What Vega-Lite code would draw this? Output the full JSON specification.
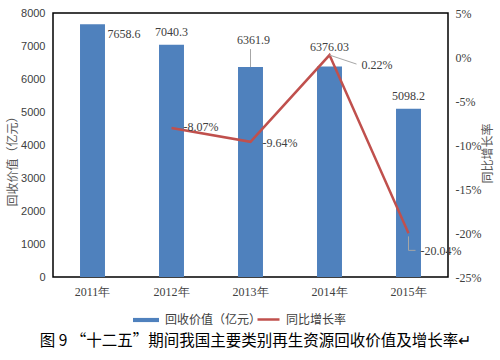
{
  "$schema": "https://vega.github.io/schema/vega-lite/v6.json",
  "width": 395,
  "height": 264,
  "autosize": {"type": "none"},
  "padding": {"left": 53, "top": 13, "right": 52, "bottom": 83},
  "background": "white",
  "config": {
    "view": {"stroke": "#000", "strokeWidth": 1.5},
    "font": "Liberation Serif",
    "axis": {"grid": false, "ticks": false, "domain": false, "labelColor": "#404040", "titleColor": "#595959", "titleFontWeight": "normal"},
    "legend": {"labelFont": "Noto Sans CJK SC", "labelFontSize": 12, "labelColor": "#404040", "title": null}
  },
  "title": {
    "text": "图 9  “十二五”期间我国主要类别再生资源回收价值及增长率↵",
    "orient": "bottom",
    "anchor": "middle",
    "font": "Noto Sans CJK SC",
    "fontSize": 15.5,
    "fontWeight": "normal",
    "color": "#000",
    "offset": 8,
    "dx": 5
  },
  "data": {
    "values": [
      {"year": "2011年", "value": 7658.6, "growth": null},
      {"year": "2012年", "value": 7040.3, "growth": -0.0807},
      {"year": "2013年", "value": 6361.9, "growth": -0.0964},
      {"year": "2014年", "value": 6376.03, "growth": 0.0022},
      {"year": "2015年", "value": 5098.2, "growth": -0.2004}
    ]
  },
  "encoding": {
    "x": {
      "field": "year", "type": "ordinal",
      "scale": {"paddingInner": 0.684, "paddingOuter": 0.342},
      "axis": {"title": null, "labelAngle": 0, "labelPadding": 9, "labelFontSize": 12, "labelColor": "#404040"}
    }
  },
  "layer": [
    {
      "encoding": {
        "y": {
          "field": "value", "type": "quantitative",
          "scale": {"domain": [0, 8000], "nice": false},
          "axis": {"values": [0, 1000, 2000, 3000, 4000, 5000, 6000, 7000, 8000], "format": "d", "labelFont": "Liberation Sans", "labelFontSize": 11, "labelPadding": 8, "title": "回收价值（亿元）", "titleFont": "Noto Sans CJK SC", "titleFontSize": 12, "titleAngle": 270, "titleX": -41, "titleY": 145, "titleAlign": "center", "titleBaseline": "middle"}
        }
      },
      "layer": [
        {
          "mark": {"type": "bar"},
          "encoding": {
            "fill": {"datum": "回收价值（亿元）", "scale": {"range": ["#4F81BD"]}, "legend": {"orient": "none", "legendX": 80, "legendY": 294, "symbolType": "M-1,-0.16H1V0.16H-1Z", "symbolSize": 676, "symbolStrokeWidth": 0, "labelOffset": 6}}
          }
        },
        {
          "transform": [{"filter": "datum.year == '2011年'"}],
          "mark": {"type": "text", "align": "left", "baseline": "middle", "dx": 15, "dy": 10, "fontSize": 12, "color": "#404040"},
          "encoding": {"text": {"field": "value", "type": "quantitative", "format": ".1f"}}
        },
        {
          "transform": [{"filter": "datum.year == '2012年' || datum.year == '2015年'"}],
          "mark": {"type": "text", "align": "center", "baseline": "bottom", "dy": -6, "fontSize": 12, "color": "#404040"},
          "encoding": {"text": {"field": "value", "type": "quantitative", "format": ".1f"}}
        },
        {
          "transform": [{"filter": "datum.year == '2013年'"}],
          "mark": {"type": "text", "align": "center", "baseline": "bottom", "dx": 3, "dy": -20, "fontSize": 12, "color": "#404040"},
          "encoding": {"text": {"field": "value", "type": "quantitative", "format": ".1f"}}
        },
        {
          "transform": [{"filter": "datum.year == '2013年'"}],
          "mark": {"type": "rule", "color": "#A6A6A6", "strokeWidth": 1, "y2Offset": -18},
          "encoding": {"y2": {"field": "value"}}
        },
        {
          "transform": [{"filter": "datum.year == '2014年'"}],
          "mark": {"type": "text", "align": "center", "baseline": "bottom", "dy": -13, "fontSize": 12, "color": "#404040"},
          "encoding": {"text": {"field": "value", "type": "quantitative", "format": ".2f"}}
        }
      ]
    },
    {
      "encoding": {
        "y": {
          "field": "growth", "type": "quantitative",
          "scale": {"domain": [-0.25, 0.05], "nice": false},
          "axis": {"orient": "right", "values": [-0.25, -0.2, -0.15, -0.1, -0.05, 0, 0.05], "format": ".0%", "labelExpr": "replace(datum.label, '−', '-')", "labelFontSize": 12, "labelPadding": 7, "title": "同比增长率", "titleFont": "Noto Sans CJK SC", "titleFontSize": 12, "titleAngle": 270, "titleX": 39, "titleY": 140, "titleAlign": "center", "titleBaseline": "middle"}
        }
      },
      "layer": [
        {
          "mark": {"type": "line", "strokeWidth": 2.5},
          "encoding": {
            "stroke": {"datum": "同比增长率", "scale": {"range": ["#C0504D"]}, "legend": {"orient": "none", "legendX": 203, "legendY": 294, "symbolType": "stroke", "symbolSize": 484, "symbolStrokeWidth": 2.5, "labelOffset": 5}}
          }
        },
        {
          "transform": [{"filter": "datum.year == '2012年'"}],
          "mark": {"type": "text", "align": "left", "baseline": "middle", "dx": 12, "dy": -1, "fontSize": 12, "color": "#404040", "text": {"expr": "replace(format(datum.growth, '.2%'), '−', '-')"}},
          "encoding": {}
        },
        {
          "transform": [{"filter": "datum.year == '2013年'"}],
          "mark": {"type": "text", "align": "left", "baseline": "middle", "dx": 12, "dy": 1, "fontSize": 12, "color": "#404040", "text": {"expr": "replace(format(datum.growth, '.2%'), '−', '-')"}},
          "encoding": {}
        },
        {
          "transform": [{"filter": "datum.year == '2014年'"}],
          "mark": {"type": "rule", "color": "#A6A6A6", "strokeWidth": 1, "x2Offset": 27, "y2Offset": 9},
          "encoding": {"x2": {"field": "year"}, "y2": {"field": "growth"}}
        },
        {
          "transform": [{"filter": "datum.year == '2014年'"}],
          "mark": {"type": "text", "align": "left", "baseline": "middle", "dx": 32, "dy": 10, "fontSize": 12, "color": "#404040", "text": {"expr": "replace(format(datum.growth, '.2%'), '−', '-')"}},
          "encoding": {}
        },
        {
          "transform": [{"filter": "datum.year == '2015年'"}],
          "mark": {"type": "rule", "color": "#A6A6A6", "strokeWidth": 1, "yOffset": 3, "y2Offset": 17},
          "encoding": {"y2": {"field": "growth"}}
        },
        {
          "transform": [{"filter": "datum.year == '2015年'"}],
          "mark": {"type": "rule", "color": "#A6A6A6", "strokeWidth": 1, "yOffset": 17, "y2Offset": 17, "x2Offset": 7},
          "encoding": {"x2": {"field": "year"}, "y2": {"field": "growth"}}
        },
        {
          "transform": [{"filter": "datum.year == '2015年'"}],
          "mark": {"type": "text", "align": "left", "baseline": "middle", "dx": 12, "dy": 18, "fontSize": 12, "color": "#404040", "text": {"expr": "replace(format(datum.growth, '.2%'), '−', '-')"}},
          "encoding": {}
        }
      ]
    }
  ],
  "resolve": {"scale": {"y": "independent", "fill": "independent", "stroke": "independent"}}
}
